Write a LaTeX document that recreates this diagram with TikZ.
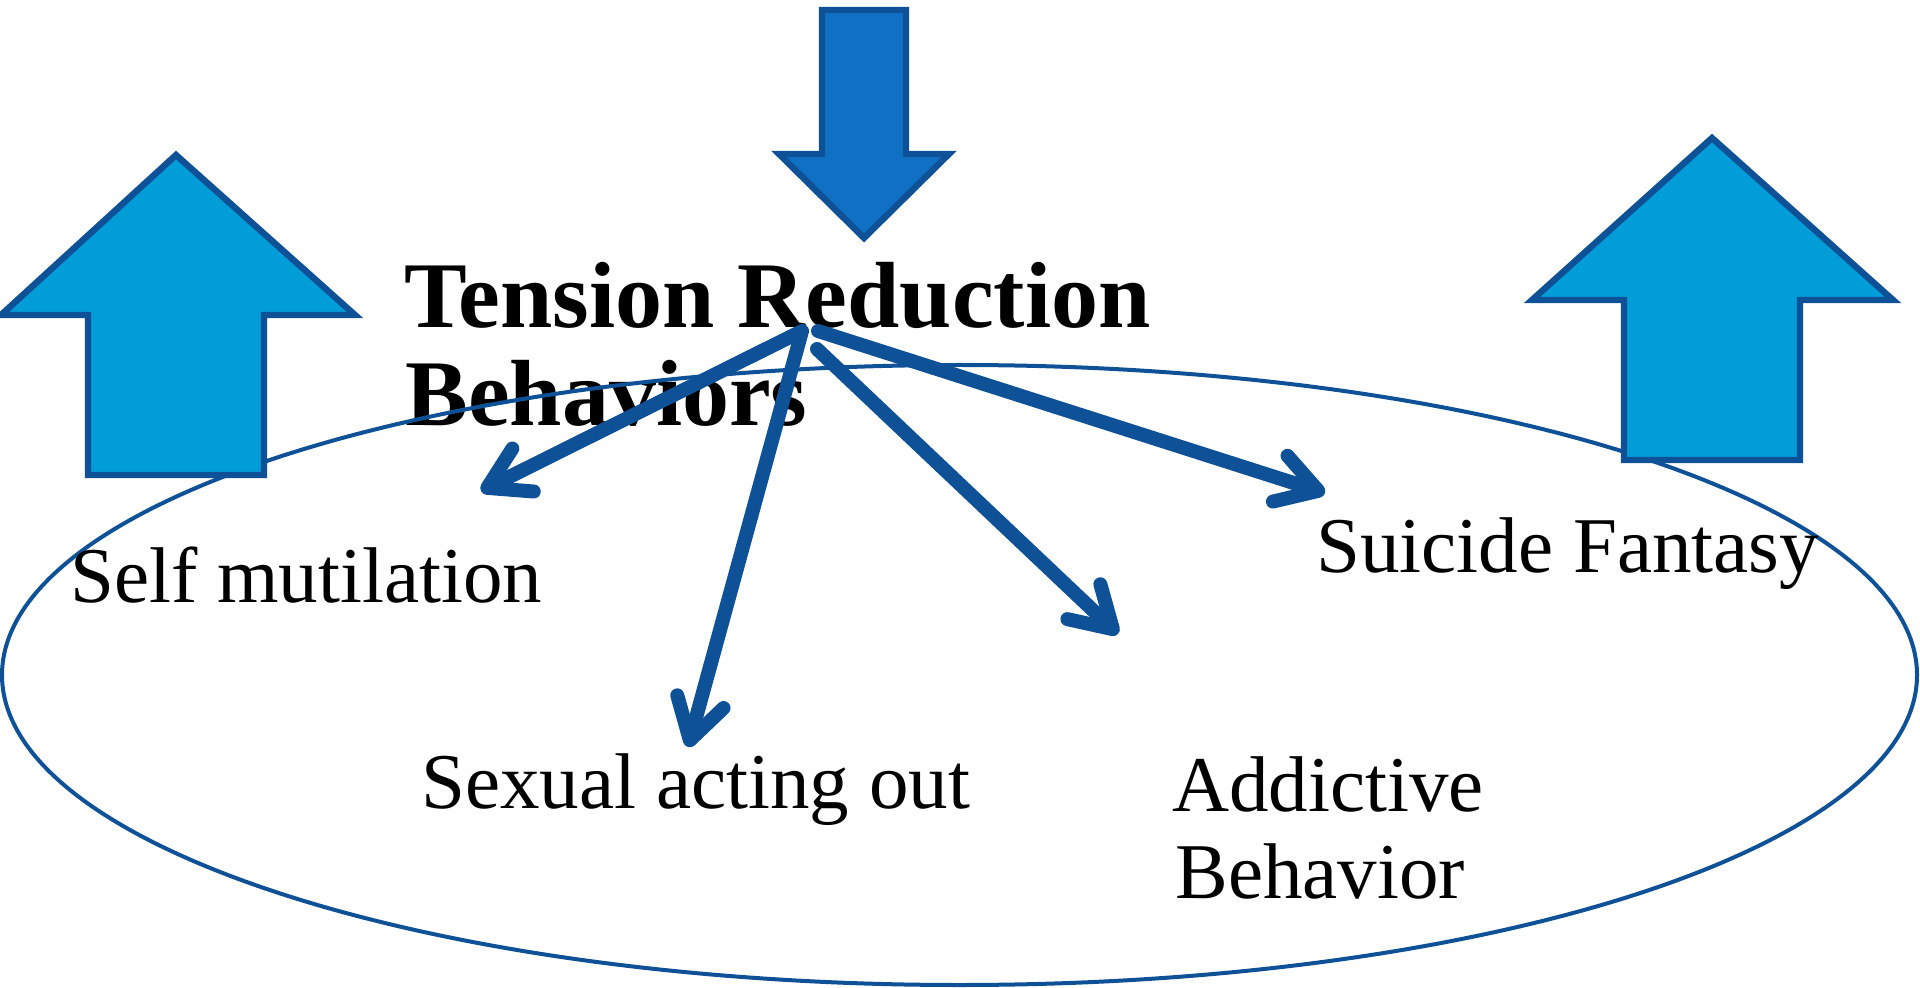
\documentclass[tikz,border=0pt]{standalone}
\usepackage{fontspec}
\setmainfont{Liberation Serif}
\usetikzlibrary{arrows.meta}
\definecolor{lineblue}{HTML}{0E5196}
\definecolor{downfill}{HTML}{1070C4}
\definecolor{upfill}{HTML}{009DD9}
\tikzset{
  blockarrow/.style={draw=lineblue, line width=3.2pt, line join=miter},
  label/.style={inner sep=0pt, anchor=base west, font=\fontsize{39.5}{44}\selectfont},
  titletext/.style={inner sep=0pt, anchor=base west, font=\fontsize{47}{50}\selectfont\bfseries},
  connector/.style={draw=lineblue, line width=7pt, line cap=round,
    -{Straight Barb[length=20pt, width=24pt, round]}},
}
\begin{document}
\begin{tikzpicture}[x=0.5pt, y=-0.5pt]
\useasboundingbox (0,0) rectangle (1920,988);
% title
\node[titletext] (title1) at (404,328) {Tension Reduction};
\node[titletext] (title2) at (405,426) {Behaviors};
% ellipse
\draw[lineblue, line width=2pt] (959.5,675) ellipse [x radius=957.5, y radius=310];
% block arrows
\draw[blockarrow, fill=downfill] (822,10) -- (906,10) -- (906,154) -- (949,154) -- (864,238) -- (779,154) -- (822,154) -- cycle;
\draw[blockarrow, fill=upfill] (176,155) -- (355,315) -- (264,315) -- (264,475) -- (88,475) -- (88,315) -- (1,315) -- cycle;
\draw[blockarrow, fill=upfill] (1712,138) -- (1893,300) -- (1800,300) -- (1800,460) -- (1624,460) -- (1624,300) -- (1532,300) -- cycle;
% labels
\node[label] (self) at (70,602) {Self mutilation};
\node[label] (sexual) at (421,808) {Sexual acting out};
\node[label] (suicide) at (1316,572) {Suicide Fantasy};
\node[label] (addict1) at (1172,811) {Addictive};
\node[label] (addict2) at (1175,898) {Behavior};
% connector coordinates
\coordinate (s1) at (800,332);
\coordinate (s2) at (802,331);
\coordinate (s3) at (817,349);
\coordinate (s4) at (818,331);
\coordinate (e1) at (481,491);
\coordinate (e2) at (688,747);
\coordinate (e3) at (1118,634);
\coordinate (e4) at (1325,493);
\draw[connector] (s1) -- (e1);
\draw[connector] (s2) -- (e2);
\draw[connector] (s3) -- (e3);
\draw[connector] (s4) -- (e4);
\end{tikzpicture}
\end{document}
